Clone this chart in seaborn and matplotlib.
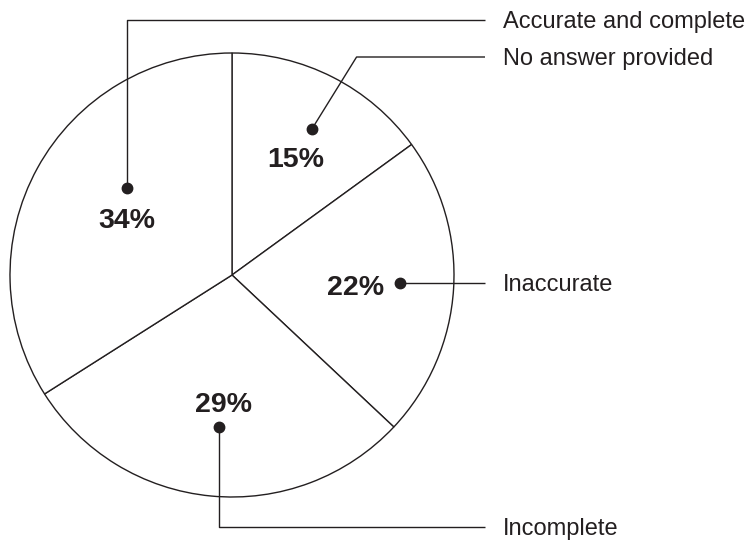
import numpy as np
import matplotlib
matplotlib.use("Agg")
import matplotlib.pyplot as plt
import seaborn as sns

# Survey answers, clockwise from 12 o'clock
categories = ["No answer provided", "Inaccurate", "Incomplete", "Accurate and complete"]
shares = [15, 22, 29, 34]
pct_labels = ["15%", "22%", "29%", "34%"]

sns.set_theme(style="white")
plt.rcParams["font.family"] = ["Liberation Sans", "DejaVu Sans"]

INK = "#231f20"
W, H = 752, 545
DPI = 100

fig = plt.figure(figsize=(W / DPI, H / DPI), dpi=DPI)
ax = fig.add_axes([0, 0, 1, 1])

# Pie laid out in pixel-like units (y measured upward)
cx, cy, R = 232, 545 - 275, 222
wedges, _ = ax.pie(
    shares,
    startangle=90,
    counterclock=False,
    center=(cx, cy),
    radius=R,
    colors=["white"] * len(shares),
    wedgeprops=dict(edgecolor=INK, linewidth=1.0),
)

ax.set_xlim(0, W)
ax.set_ylim(0, H)
ax.set_aspect("equal")
ax.axis("off")

# Leader anchor points (polar about the pie centre: degrees, fraction of radius)
anchor = {
    "No answer provided": (61.3, 0.75),
    "Inaccurate": (-2.7, 0.757),
    "Incomplete": (-94.9, 0.688),
    "Accurate and complete": (140.4, 0.615),
}
# Offset of the percentage text (centre x, baseline y) from its dot, y upward
pct_offset = {
    "No answer provided": (-16, -38),
    "Inaccurate": (-44, -12),
    "Incomplete": (4.5, 15),
    "Accurate and complete": (0, -40),
}
# Row of each category label on the right (y upward)
row_y = {
    "Accurate and complete": H - 20,
    "No answer provided": H - 57,
    "Inaccurate": None,
    "Incomplete": H - 527,
}
line_end_x = 485
text_x = 503

CAT_SIZE = 17
PCT_SIZE = 20.5
CAP = 0.716  # cap height as a fraction of the em
cat_half_cap = CAT_SIZE * DPI / 72 * CAP / 2

for cat, pct in zip(categories, pct_labels):
    ang, frac = anchor[cat]
    px = cx + frac * R * np.cos(np.radians(ang))
    py = cy + frac * R * np.sin(np.radians(ang))
    ty = row_y[cat] if row_y[cat] is not None else py

    if cat == "Inaccurate":
        xs, ys = [px, line_end_x], [py, py]
    elif cat == "No answer provided":
        # slanted run up to the label row, then across
        knee_x = px + (ty - py) * 0.62
        xs, ys = [px, knee_x, line_end_x], [py, ty, ty]
    else:
        xs, ys = [px, px, line_end_x], [py, ty, ty]

    ax.plot(xs, ys, color=INK, lw=1.0, solid_capstyle="butt", zorder=3)
    ax.plot([px], [py], "o", color=INK, markersize=7.5, zorder=4)

    dx, dy = pct_offset[cat]
    ax.text(px + dx, py + dy, pct, ha="center", va="baseline",
            fontsize=PCT_SIZE, fontweight="bold", color=INK, zorder=5)
    ax.text(text_x, ty - cat_half_cap, cat, ha="left", va="baseline",
            fontsize=CAT_SIZE, color=INK, zorder=5)

fig.savefig("out.png", dpi=DPI, facecolor="white")
